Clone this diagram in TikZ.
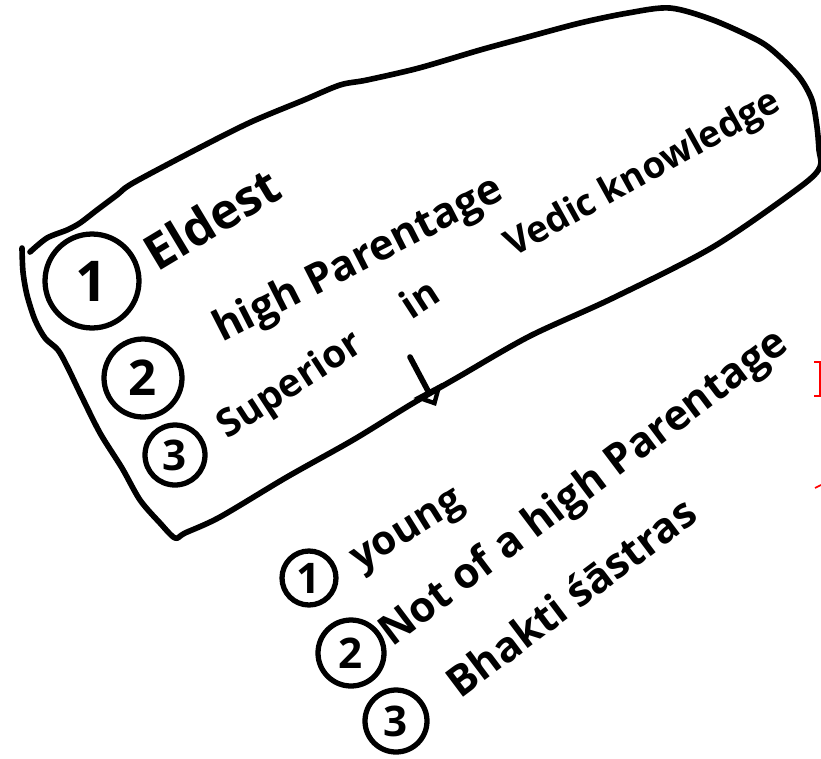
\documentclass[tikz,border=0pt]{standalone}
\usepackage{fontspec}
\setmainfont{Open Sans}
\usepackage{tikz}
\usetikzlibrary{arrows.meta}
\tikzstyle{sketch}=[line width=3.2pt, line cap=round, line join=round]
\tikzstyle{num}=[circle, draw, line width=3pt, inner sep=0pt,% a hand drawn number ring
font=\fontsize{24}{24}\selectfont\bfseries]
\tikzstyle{note}=[anchor=base west, inner sep=0pt, font=\fontsize{24}{28}\selectfont\bfseries]
\tikzstyle{pointer}=[sketch, -{Triangle[open,length=10pt,width=18pt]}]

\begin{document}
\begin{tikzpicture}[x=0.02cm, y=-0.02cm]
\useasboundingbox (0,0) rectangle (821,758);

% the box round the first list
\draw[sketch] plot[smooth, tension=0.5] coordinates {(30,252) (47,238) (67,230) (80,223) (97,210)
 (117,195) (133,183) (199,148) (251,122) (304,100) (340,85) (367,80) (419,68) (480,50) (524,38)
 (580,23) (628,13) (670,8) (713,20) (759,41) (780,57) (800,78) (812,100) (817,127) (819,150)
 (820,167) (800,187) (713,247) (613,298) (530,336) (460,376) (410,405) (353,440) (287,477)
 (220,517) (185,533) (175,538) (160,523) (140,500) (122,468) (100,433) (80,393) (68,368)
 (58,350) (45,338) (35,320) (27,295) (23,272) (22,248)};

\node[num, minimum size=1.88cm, font=\fontsize{32}{32}\selectfont\bfseries] (a1) at (92,281) {1};
\node[num, minimum size=1.56cm, font=\fontsize{28}{28}\selectfont\bfseries] (a2) at (143,378) {2};
\node[num, minimum size=1.2cm] (a3) at (175,455) {3};

\node[note, rotate=31, font=\fontsize{28}{32}\selectfont\bfseries] (eldest) at (157,273) {Eldest};
\node[note, rotate=27] (parentage) at (222,343) {high Parentage};
\node[note, rotate=33, font=\fontsize{22}{26}\selectfont\bfseries] (superior) at (227,440) {Superior\hspace{1.1cm}in};
\node[note, rotate=29, font=\fontsize{21}{25}\selectfont\bfseries] (vedic) at (513,258) {Vedic knowledge};

\coordinate (arrowtop) at (410,357);
\coordinate (arrowtip) at (436,406);
\draw[pointer] (arrowtop) -- (arrowtip);

% second list
\node[num, minimum size=1.08cm] (b1) at (309,578) {1};
\node[num, minimum size=1.32cm] (b2) at (351,653) {2};
\node[num, minimum size=1.24cm] (b3) at (396,721) {3};

\node[note, rotate=32, font=\fontsize{23}{27}\selectfont\bfseries] (young) at (360,572) {young};
\node[note, rotate=37] (notof) at (392,648) {Not of a high Parentage};
\node[note, rotate=37] (bhakti) at (460,700) {Bhakti śāstras};

% cut off marks at the edge
\draw[red, line width=1pt] (814,362) -- (820,362) -- (820,396) -- (814,396);
\draw[red, line width=1pt] (815,488) -- (821,485);

\end{tikzpicture}
\end{document}
